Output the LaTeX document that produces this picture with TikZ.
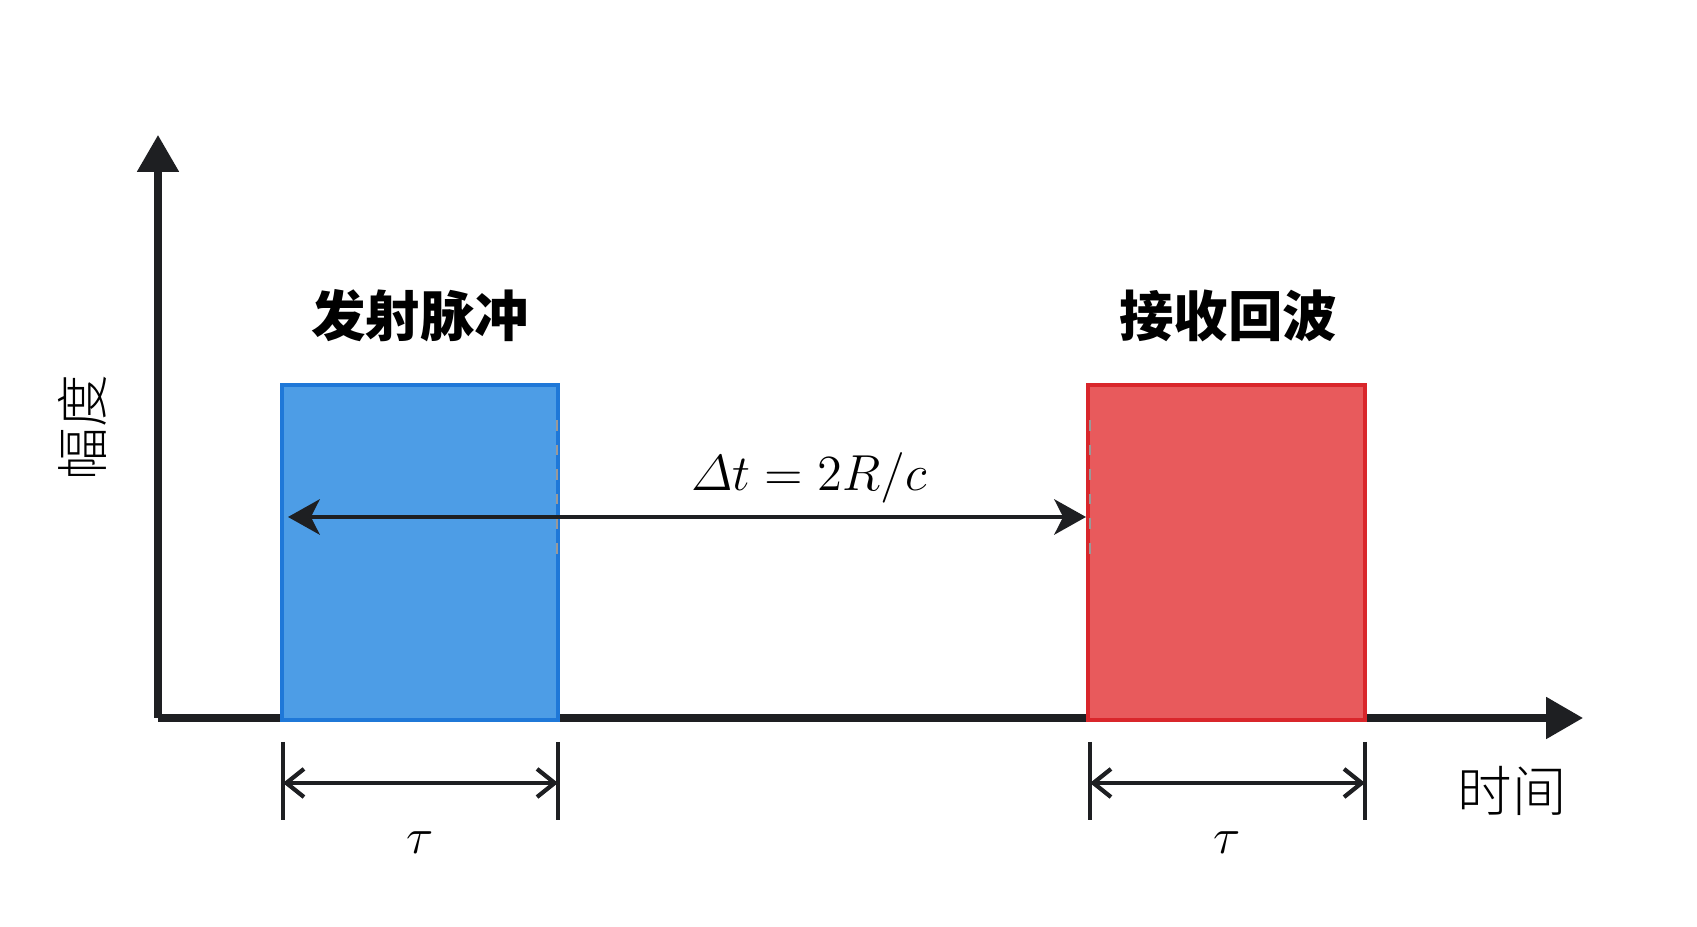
\documentclass[tikz,border=0pt]{standalone}
\usepackage{amsmath}
\usepackage{fontspec}
\newfontfamily\cjk{Noto Sans CJK SC}
\newfontfamily\cjklight{Noto Sans CJK SC Light}
\usetikzlibrary{arrows.meta}
\definecolor{ink}{HTML}{1E1F22}
\definecolor{txfill}{HTML}{4D9DE6}
\definecolor{txline}{HTML}{1F78D8}
\definecolor{rxfill}{HTML}{E85A5C}
\definecolor{rxline}{HTML}{D9262B}

\begin{document}
\begin{tikzpicture}[
    axis/.style={draw=ink, line width=2pt, -{Triangle[length=10.5pt,width=11.5pt]}},
    pulse/.style={rectangle, inner sep=0pt, outer sep=0pt, line width=1.3pt,
                  minimum height=3.35cm},
    span/.style={draw=ink, line width=1.4pt, {Stealth[length=9pt,width=10pt,inset=2.5pt]}-{Stealth[length=9pt,width=10pt,inset=2.5pt]}},
    dim/.style={draw=ink, line width=1.2pt, {Straight Barb[length=5pt,width=8pt]}-{Straight Barb[length=5pt,width=8pt]}},
    tick/.style={draw=ink, line width=1.4pt},
    guide/.style={draw=gray!80, line width=0.8pt, dash pattern=on 3pt off 4pt}
  ]
     \useasboundingbox (0,0) rectangle (16.97,9.27);
     % axes
     \coordinate (o) at (1.58,2.09);
     \coordinate (ytip) at (1.58,7.92);
     \coordinate (xtip) at (15.83,2.09);
     \draw[axis] (o) -- (ytip);
     \draw[axis] (o) -- (xtip);
     \node[rotate=90] at (0.82,4.99) (amp) {\cjklight\fontsize{15}{15}\selectfont 幅度};
     \node at (15.12,1.36) (time) {\cjklight\fontsize{15.5}{15.5}\selectfont 时间};
     % pulses
     \node[pulse, fill=txfill, draw=txline, minimum width=2.76cm] at (4.20,3.745) (tx) {};
     \node[pulse, fill=rxfill, draw=rxline, minimum width=2.77cm] at (12.265,3.745) (rx) {};
     \node at (4.20,6.11) (txlab) {\cjk\bfseries\fontsize{15.5}{15.5}\selectfont 发射脉冲};
     \node at (12.28,6.11) (rxlab) {\cjk\bfseries\fontsize{15.5}{15.5}\selectfont 接收回波};
     \path[guide] (5.57,5.07) edge (5.57,3.60)
                  (10.90,5.07) edge (10.90,3.60);
     % delay
     \coordinate (dl) at (2.88,4.10);
     \coordinate (dr) at (10.86,4.10);
     \draw[span] (dl) -- (dr);
     \node at (8.09,4.49) (delay) {\fontsize{13.5}{13.5}\selectfont $\varDelta t = 2R/c$};
     % pulse widths
     \coordinate (ta) at (2.83,1.85);
     \coordinate (tb) at (5.58,1.85);
     \coordinate (ra) at (10.90,1.85);
     \coordinate (rb) at (13.65,1.85);
     \path[tick] (ta) edge +(0,-0.78)
                 (tb) edge +(0,-0.78)
                 (ra) edge +(0,-0.78)
                 (rb) edge +(0,-0.78);
     \draw[dim] ([yshift=-0.41cm]ta) -- ([yshift=-0.41cm]tb);
     \draw[dim] ([yshift=-0.41cm]ra) -- ([yshift=-0.41cm]rb);
     \node at (4.20,0.84) (txw) {\fontsize{15}{15}\selectfont $\tau$};
     \node at (12.27,0.84) (rxw) {\fontsize{15}{15}\selectfont $\tau$};
\end{tikzpicture}
\end{document}
